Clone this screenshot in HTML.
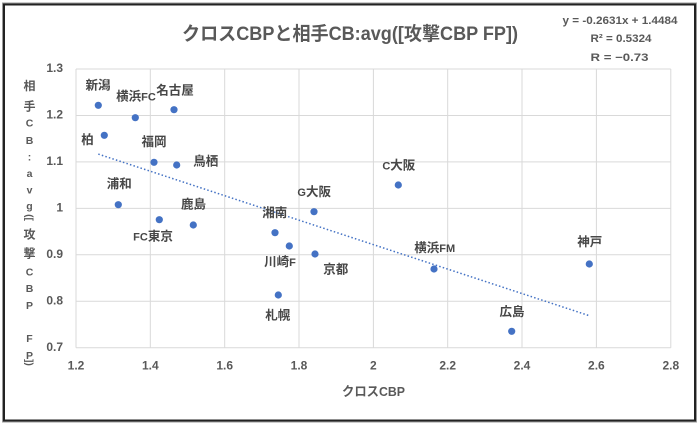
<!DOCTYPE html>
<html>
<head>
<meta charset="utf-8">
<style>
  html,body{margin:0;padding:0;background:#fff;}
  body{width:700px;height:423px;overflow:hidden;}
  svg{display:block;}
  text{font-family:"Liberation Sans","Noto Sans CJK JP",sans-serif;}
</style>
</head>
<body>
<svg width="700" height="423" viewBox="0 0 700 423" xmlns="http://www.w3.org/2000/svg">
  <rect x="0" y="0" width="700" height="423" fill="#fff"/>
  <!-- outer frame -->
  <rect x="2.5" y="3" width="694" height="419" fill="none" stroke="#9a9a9a" stroke-width="1"/>
  <rect x="4" y="4.5" width="691" height="416" fill="none" stroke="#222" stroke-width="2"/>

  <!-- gridlines -->
  <g stroke="#d9d9d9" stroke-width="1">
    <line x1="76" y1="69" x2="670.8" y2="69"/>
    <line x1="76" y1="115.5" x2="670.8" y2="115.5"/>
    <line x1="76" y1="161.9" x2="670.8" y2="161.9"/>
    <line x1="76" y1="208.4" x2="670.8" y2="208.4"/>
    <line x1="76" y1="254.8" x2="670.8" y2="254.8"/>
    <line x1="76" y1="301.3" x2="670.8" y2="301.3"/>
    <line x1="76" y1="347.7" x2="670.8" y2="347.7"/>
    <line x1="76" y1="69" x2="76" y2="347.7"/>
    <line x1="150.3" y1="69" x2="150.3" y2="347.7"/>
    <line x1="224.7" y1="69" x2="224.7" y2="347.7"/>
    <line x1="299" y1="69" x2="299" y2="347.7"/>
    <line x1="373.4" y1="69" x2="373.4" y2="347.7"/>
    <line x1="447.7" y1="69" x2="447.7" y2="347.7"/>
    <line x1="522" y1="69" x2="522" y2="347.7"/>
    <line x1="596.4" y1="69" x2="596.4" y2="347.7"/>
    <line x1="670.8" y1="69" x2="670.8" y2="347.7"/>
  </g>

  <!-- title -->
  <text x="350" y="40" text-anchor="middle" font-size="19" font-weight="bold" fill="#595959" textLength="336" lengthAdjust="spacingAndGlyphs">クロスCBPと相手CB:avg([攻撃CBP FP])</text>

  <!-- equation -->
  <g font-size="11" font-weight="bold" fill="#595959" text-anchor="middle">
    <text x="620" y="24" textLength="115" lengthAdjust="spacingAndGlyphs">y = -0.2631x + 1.4484</text>
    <text x="621" y="42" textLength="61" lengthAdjust="spacingAndGlyphs">R² = 0.5324</text>
    <text x="619.5" y="61" textLength="58" lengthAdjust="spacingAndGlyphs">R = −0.73</text>
  </g>

  <!-- y tick labels -->
  <g font-size="12" font-weight="bold" fill="#595959" text-anchor="end">
    <text x="63" y="72">1.3</text>
    <text x="63" y="118.5">1.2</text>
    <text x="63" y="165">1.1</text>
    <text x="63" y="211.5">1</text>
    <text x="63" y="258">0.9</text>
    <text x="63" y="304.5">0.8</text>
    <text x="63" y="351">0.7</text>
  </g>

  <!-- x tick labels -->
  <g font-size="12" font-weight="bold" fill="#595959" text-anchor="middle">
    <text x="76" y="369.5">1.2</text>
    <text x="150.3" y="369.5">1.4</text>
    <text x="224.7" y="369.5">1.6</text>
    <text x="299" y="369.5">1.8</text>
    <text x="373.4" y="369.5">2</text>
    <text x="447.7" y="369.5">2.2</text>
    <text x="522" y="369.5">2.4</text>
    <text x="596.4" y="369.5">2.6</text>
    <text x="670.8" y="369.5">2.8</text>
  </g>

  <!-- x axis title -->
  <text x="373.5" y="396" text-anchor="middle" font-size="13" font-weight="bold" fill="#595959" textLength="63" lengthAdjust="spacingAndGlyphs">クロスCBP</text>

  <!-- y axis title (stacked) -->
  <g font-weight="bold" fill="#595959" text-anchor="middle">
    <text x="29.5" y="90" font-size="12">相</text>
    <text x="29.5" y="110.5" font-size="12">手</text>
    <text x="29.5" y="126.5" font-size="10.5">C</text>
    <text x="29.5" y="144" font-size="10.5">B</text>
    <text x="29.5" y="160.5" font-size="10.5">:</text>
    <text x="29.5" y="177" font-size="10.5">a</text>
    <text x="29.5" y="193.5" font-size="10.5">v</text>
    <text x="29.5" y="209.5" font-size="10.5">g</text>
    <text x="0" y="0" font-size="10" transform="translate(26 217.5) rotate(90)">([</text>
    <text x="29.5" y="238.5" font-size="12">攻</text>
    <text x="29.5" y="257.5" font-size="12">撃</text>
    <text x="29.5" y="275.5" font-size="10.5">C</text>
    <text x="29.5" y="292" font-size="10.5">B</text>
    <text x="29.5" y="309" font-size="10.5">P</text>
    <text x="29.5" y="342" font-size="10.5">F</text>
    <text x="29.5" y="359" font-size="10.5">P</text>
    <text x="0" y="0" font-size="10" transform="translate(26 362.5) rotate(90)">])</text>
  </g>

  <!-- trendline -->
  <line x1="98.3" y1="154.1" x2="588.7" y2="315.5" stroke="#4472C4" stroke-width="1.5" stroke-dasharray="1.5 2.2"/>

  <!-- points -->
  <g fill="#4472C4">
    <circle cx="98.3" cy="105.3" r="3.6"/>
    <circle cx="135.3" cy="117.7" r="3.6"/>
    <circle cx="174" cy="109.7" r="3.6"/>
    <circle cx="104.3" cy="135.3" r="3.6"/>
    <circle cx="154" cy="162.3" r="3.6"/>
    <circle cx="176.7" cy="165" r="3.6"/>
    <circle cx="118.3" cy="204.7" r="3.6"/>
    <circle cx="159.3" cy="219.7" r="3.6"/>
    <circle cx="193.3" cy="225" r="3.6"/>
    <circle cx="275" cy="232.7" r="3.6"/>
    <circle cx="289.3" cy="246" r="3.6"/>
    <circle cx="315" cy="254" r="3.6"/>
    <circle cx="314" cy="211.7" r="3.6"/>
    <circle cx="278.3" cy="295" r="3.6"/>
    <circle cx="398.3" cy="185" r="3.6"/>
    <circle cx="434" cy="269" r="3.6"/>
    <circle cx="589.3" cy="264" r="3.6"/>
    <circle cx="511.7" cy="331.3" r="3.6"/>
  </g>

  <!-- data labels -->
  <g font-size="12.5" font-weight="bold" fill="#474747" text-anchor="middle">
    <text x="98" y="89.5">新潟</text>
    <text x="136" y="100.5">横浜<tspan font-size="11">FC</tspan></text>
    <text x="175" y="94.5">名古屋</text>
    <text x="87.5" y="144">柏</text>
    <text x="154" y="146">福岡</text>
    <text x="205.8" y="165.5">鳥栖</text>
    <text x="119.2" y="188">浦和</text>
    <text x="153" y="240.5"><tspan font-size="11">FC</tspan>東京</text>
    <text x="193.5" y="208.5">鹿島</text>
    <text x="274.8" y="217">湘南</text>
    <text x="314.2" y="196"><tspan font-size="11">G</tspan>大阪</text>
    <text x="398.8" y="169.5"><tspan font-size="11">C</tspan>大阪</text>
    <text x="280" y="266">川崎<tspan font-size="11">F</tspan></text>
    <text x="335.8" y="273.5">京都</text>
    <text x="277.8" y="319.5">札幌</text>
    <text x="434.7" y="252">横浜<tspan font-size="11">FM</tspan></text>
    <text x="589.7" y="246">神戸</text>
    <text x="512" y="316">広島</text>
  </g>
</svg>
</body>
</html>
